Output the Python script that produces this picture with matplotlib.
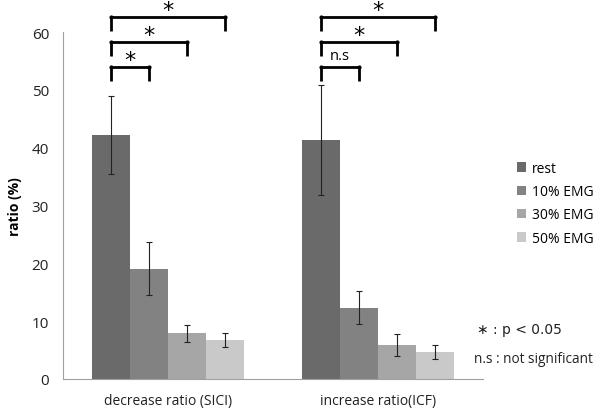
import matplotlib
matplotlib.use("Agg")
import matplotlib.pyplot as plt
import numpy as np

plt.rcParams['font.family'] = ['Open Sans', 'DejaVu Sans']

categories = ["decrease ratio (SICI)", "increase ratio(ICF)"]
series = ["rest", "10% EMG", "30% EMG", "50% EMG"]
means = {
    "rest":    [42.2, 41.3],
    "10% EMG": [19.1, 12.3],
    "30% EMG": [7.9, 5.9],
    "50% EMG": [6.75, 4.7],
}
errors = {
    "rest":    [6.8, 9.5],
    "10% EMG": [4.6, 2.85],
    "30% EMG": [1.5, 1.9],
    "50% EMG": [1.2, 1.2],
}
colors = ["#6a6a6a", "#828282", "#a6a6a6", "#c9c9c9"]
yticks = [0, 10, 20, 30, 40, 50, 60]

# significance brackets: (group, series index right end, y level, label)
brackets = [
    (0, 1, 54.0, "*"), (0, 2, 58.3, "*"), (0, 3, 62.6, "*"),
    (1, 1, 54.0, "n.s"), (1, 2, 58.3, "*"), (1, 3, 62.6, "*"),
]
drop = 2.5

fig = plt.figure(figsize=(6, 4.1), dpi=100)
ax = fig.add_axes([0.105, 0.0732, 0.70, 0.8463])

x = np.arange(len(categories))
w = 0.182
offsets = (np.arange(len(series)) - 1.5) * w
for i, s in enumerate(series):
    ax.bar(x + offsets[i], means[s], w, color=colors[i], label=s,
           yerr=errors[s], error_kw=dict(ecolor="#222222", elinewidth=0.8,
                                         capsize=2.5, capthick=0.8))

ax.set_xlim(-0.5, 1.5)
ax.set_ylim(0, 60)
ax.set_yticks(yticks)
ax.set_xticks(x)
ax.set_xticklabels(categories, fontsize=10, color="#222222")
ax.tick_params(axis='y', length=0, labelsize=11, colors="#222222", pad=10)
ax.tick_params(axis='x', length=0, pad=10)
for sp in ["top", "right"]:
    ax.spines[sp].set_visible(False)
for sp in ["left", "bottom"]:
    ax.spines[sp].set_color("#a0a0a0")
    ax.spines[sp].set_linewidth(0.8)
ax.set_ylabel("ratio (%)", fontsize=10, fontweight="bold")
ax.yaxis.set_label_coords(-0.098, 0.5)

for g, j, y, lab in brackets:
    x0 = x[g] + offsets[0]
    x1 = x[g] + offsets[j]
    ax.plot([x0, x0, x1, x1], [y - drop, y, y, y - drop], color="black",
            lw=2, clip_on=False, solid_capstyle="butt")
    ax.plot([x0, x1], [y, y], 'o', color="black", ms=2, clip_on=False)
    if lab == "*":
        ax.text((x0 + x1) / 2, y - 0.6, lab, ha="center", va="bottom",
                fontsize=16, family="DejaVu Sans", clip_on=False)
    else:
        ax.text((x0 + x1) / 2, y + 0.6, lab, ha="center", va="bottom",
                fontsize=10.5, clip_on=False)

leg = ax.legend(loc="upper left", bbox_to_anchor=(1.05, 0.665), frameon=False,
                fontsize=10, handlelength=0.65, handleheight=0.65,
                handletextpad=0.45, labelspacing=0.6)

fig.text(0.795, 0.185, "\u2217 : p < 0.05", fontsize=10, color="#222222",
         family=["DejaVu Sans"])
fig.text(0.79, 0.115, "n.s : not significant", fontsize=9.8, color="#222222")

fig.savefig("out.png", dpi=100)
